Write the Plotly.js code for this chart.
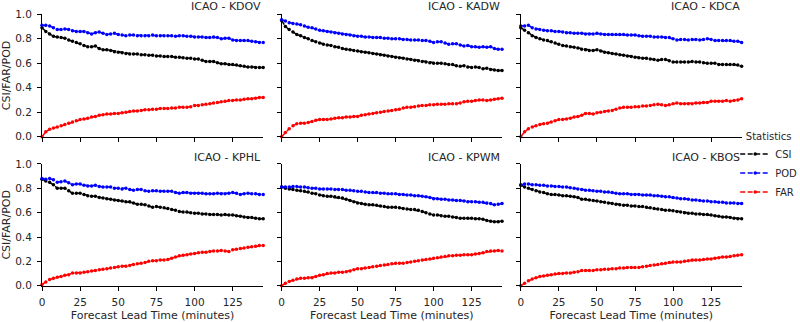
<!DOCTYPE html>
<html>
<head>
<meta charset="utf-8">
<script src="https://cdn.plot.ly/plotly-3.0.1.min.js"></script>
<style>html,body{margin:0;padding:0;background:#fff;}#chart{width:800px;height:322px;}</style>
</head>
<body>
<div id="chart"></div>
<script>
// Forecast lead time (minutes), every 2.5 min
const leadTime = Array.from({length: 59}, (_, i) => i * 2.5);
const xTicks = [0, 25, 50, 75, 100, 125];
const stations = ["KDOV", "KADW", "KDCA", "KPHL", "KPWM", "KBOS"];
const statNames = ["CSI", "POD", "FAR"];

const csi_KDOV = [0.89,0.86,0.84,0.82,0.815,0.81,0.805,0.79,0.78,0.77, 0.76,0.745,0.735,0.735,0.74,0.72,0.71,0.71,0.705,0.695, 0.69,0.685,0.68,0.675,0.675,0.675,0.67,0.67,0.665,0.665, 0.66,0.66,0.655,0.655,0.655,0.65,0.65,0.645,0.64,0.64, 0.635,0.635,0.625,0.615,0.615,0.615,0.605,0.595,0.595,0.59, 0.59,0.585,0.58,0.575,0.57,0.57,0.565,0.565,0.565];
const pod_KDOV = [0.91,0.91,0.905,0.89,0.875,0.875,0.88,0.875,0.865,0.86, 0.86,0.86,0.85,0.84,0.85,0.855,0.845,0.835,0.84,0.845, 0.835,0.83,0.825,0.83,0.83,0.825,0.825,0.825,0.825,0.83, 0.825,0.825,0.825,0.825,0.825,0.82,0.825,0.825,0.82,0.82, 0.815,0.815,0.815,0.81,0.81,0.815,0.81,0.8,0.805,0.805, 0.79,0.785,0.785,0.785,0.785,0.78,0.775,0.77,0.77];
const far_KDOV = [0.0,0.04,0.06,0.07,0.08,0.09,0.1,0.11,0.12,0.13, 0.14,0.145,0.15,0.16,0.165,0.175,0.18,0.185,0.185,0.19, 0.19,0.195,0.2,0.205,0.21,0.21,0.215,0.22,0.22,0.225, 0.225,0.23,0.23,0.23,0.235,0.235,0.24,0.24,0.24,0.245, 0.255,0.255,0.26,0.265,0.27,0.275,0.28,0.285,0.29,0.295, 0.295,0.3,0.3,0.305,0.31,0.31,0.315,0.32,0.32];

const csi_KADW = [0.95,0.9,0.875,0.855,0.835,0.825,0.81,0.8,0.785,0.775, 0.765,0.755,0.75,0.745,0.735,0.73,0.72,0.715,0.71,0.705, 0.7,0.695,0.69,0.685,0.68,0.675,0.67,0.665,0.66,0.655, 0.65,0.645,0.64,0.635,0.63,0.625,0.62,0.615,0.61,0.605, 0.6,0.6,0.6,0.595,0.59,0.59,0.58,0.575,0.58,0.57, 0.565,0.57,0.565,0.555,0.56,0.55,0.545,0.54,0.54];
const pod_KADW = [0.955,0.945,0.93,0.925,0.92,0.915,0.905,0.895,0.89,0.88, 0.87,0.865,0.86,0.855,0.85,0.845,0.84,0.835,0.83,0.825, 0.82,0.82,0.815,0.815,0.81,0.81,0.81,0.805,0.805,0.8, 0.8,0.8,0.795,0.795,0.79,0.79,0.79,0.785,0.785,0.78, 0.77,0.775,0.775,0.765,0.755,0.76,0.76,0.75,0.74,0.745, 0.735,0.735,0.73,0.735,0.73,0.735,0.72,0.715,0.715];
const far_KADW = [0.0,0.035,0.065,0.09,0.105,0.11,0.11,0.115,0.125,0.135, 0.14,0.14,0.14,0.145,0.15,0.155,0.155,0.16,0.16,0.165, 0.165,0.175,0.18,0.185,0.19,0.195,0.2,0.205,0.21,0.215, 0.22,0.225,0.235,0.24,0.24,0.245,0.25,0.255,0.255,0.26, 0.26,0.265,0.265,0.265,0.27,0.27,0.27,0.275,0.285,0.29, 0.29,0.295,0.3,0.3,0.295,0.3,0.305,0.31,0.315];

const csi_KDCA = [0.89,0.87,0.85,0.825,0.81,0.8,0.79,0.785,0.775,0.765, 0.755,0.745,0.74,0.735,0.73,0.725,0.715,0.71,0.705,0.705, 0.71,0.7,0.69,0.685,0.68,0.675,0.67,0.665,0.66,0.655, 0.65,0.645,0.64,0.64,0.635,0.63,0.625,0.63,0.63,0.62, 0.61,0.61,0.61,0.61,0.61,0.615,0.61,0.61,0.605,0.6, 0.6,0.6,0.59,0.59,0.59,0.59,0.59,0.585,0.575];
const pod_KDCA = [0.905,0.905,0.91,0.89,0.88,0.875,0.87,0.865,0.865,0.86, 0.86,0.855,0.85,0.85,0.845,0.845,0.845,0.84,0.84,0.84, 0.845,0.84,0.835,0.835,0.835,0.835,0.835,0.835,0.83,0.83, 0.83,0.825,0.82,0.82,0.82,0.815,0.815,0.815,0.81,0.81, 0.8,0.79,0.795,0.795,0.79,0.795,0.795,0.79,0.795,0.8, 0.795,0.785,0.785,0.785,0.785,0.785,0.78,0.78,0.77];
const far_KDCA = [0.0,0.04,0.065,0.08,0.09,0.1,0.105,0.11,0.12,0.13, 0.14,0.14,0.145,0.15,0.16,0.165,0.175,0.19,0.19,0.185, 0.195,0.2,0.205,0.21,0.215,0.225,0.235,0.24,0.24,0.24, 0.245,0.245,0.25,0.25,0.255,0.26,0.265,0.26,0.255,0.26, 0.27,0.275,0.27,0.27,0.27,0.27,0.275,0.275,0.28,0.28, 0.29,0.29,0.29,0.29,0.295,0.29,0.295,0.3,0.31];

const csi_KPHL = [0.875,0.86,0.85,0.83,0.8,0.8,0.8,0.78,0.76,0.76, 0.76,0.75,0.74,0.735,0.735,0.725,0.72,0.715,0.71,0.705, 0.7,0.695,0.69,0.69,0.68,0.67,0.67,0.665,0.655,0.645, 0.65,0.645,0.64,0.635,0.625,0.62,0.61,0.605,0.605,0.6, 0.595,0.595,0.59,0.59,0.585,0.585,0.585,0.58,0.585,0.58, 0.58,0.575,0.57,0.565,0.56,0.56,0.555,0.55,0.55];
const pod_KPHL = [0.88,0.875,0.88,0.87,0.85,0.855,0.86,0.845,0.83,0.835, 0.835,0.825,0.82,0.82,0.825,0.815,0.81,0.81,0.81,0.8, 0.8,0.795,0.8,0.79,0.785,0.79,0.79,0.78,0.775,0.78, 0.78,0.775,0.775,0.775,0.775,0.765,0.76,0.765,0.765,0.76, 0.76,0.76,0.76,0.755,0.755,0.755,0.76,0.755,0.755,0.76, 0.765,0.76,0.75,0.755,0.76,0.755,0.755,0.75,0.75];
const far_KPHL = [0.01,0.03,0.05,0.06,0.07,0.075,0.085,0.09,0.105,0.105, 0.105,0.11,0.115,0.12,0.125,0.13,0.135,0.14,0.145,0.15, 0.155,0.16,0.16,0.165,0.175,0.18,0.185,0.19,0.2,0.205, 0.205,0.21,0.21,0.215,0.225,0.235,0.245,0.25,0.255,0.26, 0.265,0.27,0.275,0.275,0.28,0.285,0.285,0.29,0.285,0.28, 0.295,0.3,0.305,0.31,0.315,0.32,0.325,0.33,0.33];

const csi_KPWM = [0.81,0.8,0.795,0.79,0.785,0.78,0.775,0.77,0.76,0.755, 0.745,0.74,0.735,0.735,0.73,0.725,0.72,0.71,0.7,0.69, 0.68,0.675,0.67,0.665,0.665,0.66,0.655,0.65,0.645,0.645, 0.645,0.64,0.635,0.63,0.625,0.625,0.62,0.61,0.6,0.59, 0.58,0.58,0.575,0.57,0.57,0.565,0.56,0.555,0.555,0.555, 0.555,0.55,0.55,0.545,0.535,0.53,0.525,0.525,0.53];
const pod_KPWM = [0.81,0.81,0.81,0.815,0.815,0.81,0.81,0.805,0.8,0.8, 0.795,0.795,0.795,0.795,0.79,0.79,0.79,0.785,0.785,0.78, 0.775,0.775,0.77,0.765,0.765,0.765,0.76,0.76,0.755,0.755, 0.755,0.75,0.75,0.745,0.745,0.74,0.74,0.735,0.73,0.725, 0.715,0.715,0.71,0.71,0.705,0.705,0.7,0.7,0.695,0.69, 0.69,0.69,0.685,0.685,0.68,0.675,0.665,0.67,0.675];
const far_KPWM = [0.0,0.02,0.035,0.045,0.055,0.06,0.06,0.065,0.065,0.075, 0.085,0.09,0.1,0.105,0.105,0.11,0.11,0.115,0.12,0.13, 0.14,0.14,0.145,0.15,0.155,0.16,0.165,0.17,0.175,0.18, 0.185,0.185,0.185,0.19,0.195,0.2,0.205,0.21,0.215,0.22, 0.225,0.23,0.235,0.24,0.245,0.245,0.25,0.25,0.255,0.255, 0.255,0.26,0.265,0.27,0.28,0.285,0.285,0.29,0.285];

const csi_KBOS = [0.825,0.81,0.8,0.79,0.78,0.77,0.765,0.755,0.75,0.75, 0.745,0.74,0.74,0.735,0.73,0.725,0.71,0.71,0.705,0.7, 0.695,0.69,0.685,0.68,0.675,0.67,0.665,0.66,0.66,0.655, 0.655,0.65,0.65,0.645,0.64,0.635,0.63,0.625,0.62,0.62, 0.615,0.61,0.605,0.6,0.595,0.595,0.59,0.59,0.585,0.585, 0.58,0.575,0.57,0.565,0.565,0.56,0.555,0.55,0.55];
const pod_KBOS = [0.83,0.835,0.835,0.83,0.83,0.825,0.825,0.82,0.82,0.815, 0.815,0.81,0.81,0.805,0.8,0.795,0.79,0.785,0.785,0.78, 0.775,0.775,0.77,0.77,0.765,0.76,0.755,0.755,0.755,0.75, 0.75,0.75,0.745,0.745,0.745,0.74,0.74,0.735,0.73,0.73, 0.725,0.72,0.715,0.715,0.71,0.705,0.705,0.7,0.695,0.695, 0.69,0.69,0.685,0.685,0.68,0.68,0.68,0.675,0.675];
const far_KBOS = [0.0,0.02,0.04,0.055,0.065,0.075,0.08,0.085,0.09,0.095, 0.1,0.1,0.105,0.105,0.11,0.115,0.125,0.125,0.125,0.125, 0.13,0.13,0.135,0.135,0.14,0.14,0.145,0.145,0.15,0.15, 0.15,0.15,0.155,0.16,0.165,0.17,0.175,0.18,0.185,0.19, 0.195,0.195,0.195,0.2,0.205,0.21,0.21,0.21,0.215,0.22, 0.22,0.225,0.23,0.235,0.235,0.24,0.245,0.25,0.255];

const seriesByStation = {
  KDOV: [csi_KDOV, pod_KDOV, far_KDOV],
  KADW: [csi_KADW, pod_KADW, far_KADW],
  KDCA: [csi_KDCA, pod_KDCA, far_KDCA],
  KPHL: [csi_KPHL, pod_KPHL, far_KPHL],
  KPWM: [csi_KPWM, pod_KPWM, far_KPWM],
  KBOS: [csi_KBOS, pod_KBOS, far_KBOS]
};

const colors = ["#000000", "#0000ff", "#ff0000"];
const colDomains = [[0.0525, 0.329], [0.352, 0.6275], [0.651, 0.927]];
const rowDomains = [[0.5755, 0.9556], [0.1128, 0.4907]];
const titleY = [1 - 7 / 322, 1 - 157 / 322];
const FONT = "DejaVu Sans, sans-serif";
const TXT = "#262626";

const traces = [];
const layout = {
  width: 800, height: 322,
  margin: {l: 0, r: 0, t: 0, b: 0, autoexpand: false},
  paper_bgcolor: "#ffffff", plot_bgcolor: "#ffffff",
  font: {family: FONT, size: 10, color: TXT},
  showlegend: true,
  legend: {
    x: 0.919, y: 0.607, xanchor: "left", yanchor: "top",
    font: {family: FONT, size: 10, color: TXT},
    title: {text: "Statistics", side: "top center", font: {family: FONT, size: 10, color: TXT}},
    bgcolor: "rgba(0,0,0,0)", borderwidth: 0, tracegroupgap: 0, itemwidth: 30
  },
  annotations: []
};

stations.forEach((st, p) => {
  const r = Math.floor(p / 3), c = p % 3;
  const sfx = p === 0 ? "" : String(p + 1);
  const xa = "xaxis" + sfx, ya = "yaxis" + sfx;
  layout[xa] = {
    domain: colDomains[c], anchor: "y" + sfx, range: [0, 145],
    tickvals: xTicks, showticklabels: r === 1,
    ticks: "outside", ticklen: 4, tickwidth: 1, tickcolor: "#000",
    ticklabelstandoff: 3,
    showline: true, linecolor: "#000", linewidth: 1,
    showgrid: false, zeroline: false, fixedrange: true,
    tickfont: {family: FONT, size: 10.5, color: TXT},
    title: r === 1 ? {text: "Forecast Lead Time (minutes)", font: {family: FONT, size: 11, color: TXT}, standoff: 5} : {text: ""}
  };
  layout[ya] = {
    domain: rowDomains[r], anchor: "x" + sfx, range: [0, 1],
    tickvals: [0, 0.2, 0.4, 0.6, 0.8, 1.0], tickformat: ".1f", showticklabels: c === 0,
    ticks: "outside", ticklen: 4, tickwidth: 1, tickcolor: "#000",
    ticklabelstandoff: 3,
    showline: true, linecolor: "#000", linewidth: 1,
    showgrid: false, zeroline: false, fixedrange: true,
    tickfont: {family: FONT, size: 10.5, color: TXT},
    title: c === 0 ? {text: "CSI/FAR/POD", font: {family: FONT, size: 11, color: TXT}, standoff: 3} : {text: ""}
  };
  const sers = seriesByStation[st];
  statNames.forEach((nm, k) => {
    traces.push({
      type: "scatter", mode: "lines+markers",
      x: leadTime, y: sers[k],
      xaxis: "x" + sfx, yaxis: "y" + sfx,
      name: nm, legendgroup: nm, showlegend: p === 0,
      line: {color: colors[k], width: 1.5, dash: "5px,2.5px"},
      marker: {color: colors[k], size: 3.5},
      cliponaxis: false, hoverinfo: "skip"
    });
  });
  layout.annotations.push({
    text: "ICAO - " + st, xref: "paper", yref: "paper",
    x: colDomains[c][1], y: titleY[r],
    xanchor: "right", yanchor: "middle", showarrow: false,
    font: {family: FONT, size: 11, color: TXT}
  });
});

Plotly.newPlot("chart", traces, layout, {staticPlot: true, displayModeBar: false});
</script>
</body>
</html>
